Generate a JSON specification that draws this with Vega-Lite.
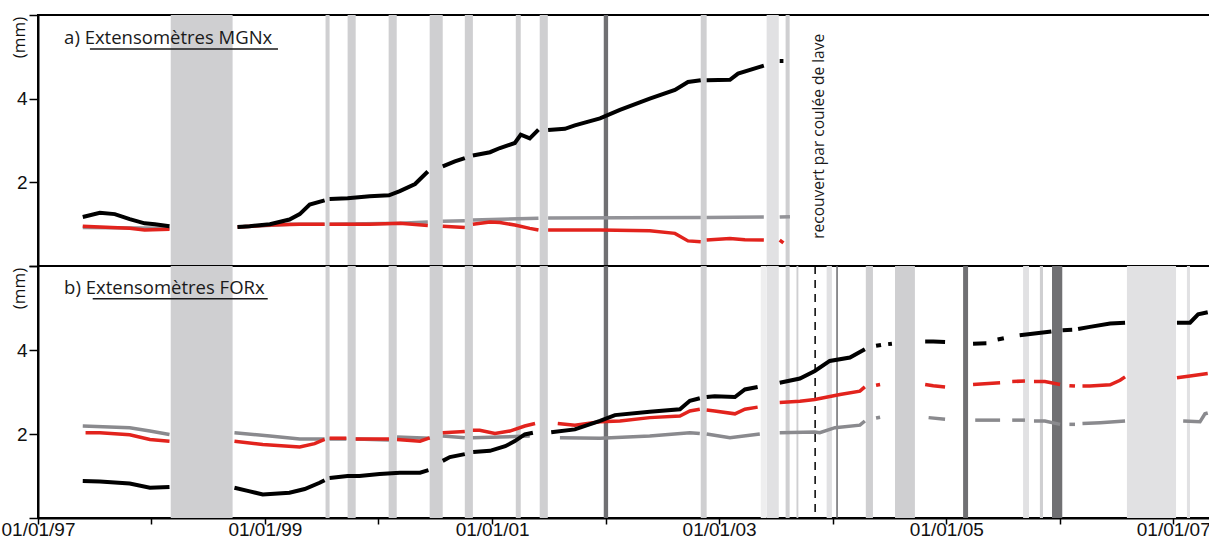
{
  "$schema": "https://vega.github.io/schema/vega-lite/v6.json",
  "padding": {"left": 0, "top": 13, "right": 0, "bottom": 0},
  "background": "white",
  "spacing": 0,
  "bounds": "flush",
  "config": {
    "view": {"stroke": "#000", "strokeWidth": 2, "fill": "white"},
    "axis": {"grid": false, "tickColor": "#000", "tickWidth": 1.5, "domainColor": "#000", "domainWidth": 2, "labelColor": "#111", "labelFont": "Liberation Sans", "zindex": 1}
  },
  "datasets": {
    "bandes": [
      {"panneaux": "ab", "teinte": "gris", "debut": "1998-03-04", "fin": "1998-09-19"},
      {"panneaux": "ab", "teinte": "gris", "debut": "1999-07-15", "fin": "1999-07-28"},
      {"panneaux": "ab", "teinte": "gris", "debut": "1999-09-24", "fin": "1999-10-20"},
      {"panneaux": "ab", "teinte": "gris", "debut": "2000-02-03", "fin": "2000-02-29"},
      {"panneaux": "ab", "teinte": "gris", "debut": "2000-06-14", "fin": "2000-07-26"},
      {"panneaux": "ab", "teinte": "gris", "debut": "2000-10-05", "fin": "2000-10-31"},
      {"panneaux": "ab", "teinte": "gris", "debut": "2001-03-18", "fin": "2001-04-03"},
      {"panneaux": "ab", "teinte": "gris", "debut": "2001-06-03", "fin": "2001-06-29"},
      {"panneaux": "ab", "teinte": "sombre", "debut": "2001-12-26", "fin": "2002-01-09"},
      {"panneaux": "ab", "teinte": "gris", "debut": "2002-11-03", "fin": "2002-11-22"},
      {"panneaux": "ab", "teinte": "clair", "debut": "2003-06-03", "fin": "2003-07-12"},
      {"panneaux": "ab", "teinte": "gris", "debut": "2003-08-03", "fin": "2003-08-16"},
      {"panneaux": "b", "teinte": "tres clair", "debut": "2003-05-15", "fin": "2003-06-03"},
      {"panneaux": "b", "teinte": "gris", "debut": "2003-09-07", "fin": "2003-09-13"},
      {"panneaux": "b", "teinte": "clair", "debut": "2003-12-13", "fin": "2003-12-30"},
      {"panneaux": "b", "teinte": "sombre", "debut": "2004-01-13", "fin": "2004-01-18"},
      {"panneaux": "b", "teinte": "gris", "debut": "2004-04-17", "fin": "2004-05-10"},
      {"panneaux": "b", "teinte": "gris", "debut": "2004-07-20", "fin": "2004-09-22"},
      {"panneaux": "b", "teinte": "sombre", "debut": "2005-02-24", "fin": "2005-03-12"},
      {"panneaux": "b", "teinte": "clair", "debut": "2005-09-05", "fin": "2005-09-24"},
      {"panneaux": "b", "teinte": "gris", "debut": "2005-10-29", "fin": "2005-11-08"},
      {"panneaux": "b", "teinte": "sombre", "debut": "2005-12-07", "fin": "2006-01-09"},
      {"panneaux": "b", "teinte": "clair", "debut": "2006-08-05", "fin": "2007-01-10"},
      {"panneaux": "b", "teinte": "clair", "debut": "2007-02-14", "fin": "2007-02-24"}
    ],
    "mesures": [
      {"panneau": "a", "serie": "noir", "segment": 1, "date": "1997-05-25", "mm": 1.17},
      {"panneau": "a", "serie": "noir", "segment": 1, "date": "1997-07-19", "mm": 1.27},
      {"panneau": "a", "serie": "noir", "segment": 1, "date": "1997-09-05", "mm": 1.24},
      {"panneau": "a", "serie": "noir", "segment": 1, "date": "1997-10-23", "mm": 1.12},
      {"panneau": "a", "serie": "noir", "segment": 1, "date": "1997-12-10", "mm": 1.02},
      {"panneau": "a", "serie": "noir", "segment": 1, "date": "1998-01-12", "mm": 1.0},
      {"panneau": "a", "serie": "noir", "segment": 1, "date": "1998-02-28", "mm": 0.95},
      {"panneau": "a", "serie": "noir", "segment": 2, "date": "1998-10-05", "mm": 0.93},
      {"panneau": "a", "serie": "noir", "segment": 2, "date": "1998-11-13", "mm": 0.95},
      {"panneau": "a", "serie": "noir", "segment": 2, "date": "1999-01-17", "mm": 1.0},
      {"panneau": "a", "serie": "noir", "segment": 2, "date": "1999-03-21", "mm": 1.11},
      {"panneau": "a", "serie": "noir", "segment": 2, "date": "1999-04-23", "mm": 1.24},
      {"panneau": "a", "serie": "noir", "segment": 2, "date": "1999-05-25", "mm": 1.47},
      {"panneau": "a", "serie": "noir", "segment": 2, "date": "1999-07-12", "mm": 1.57},
      {"panneau": "a", "serie": "noir", "segment": 3, "date": "1999-07-28", "mm": 1.6},
      {"panneau": "a", "serie": "noir", "segment": 3, "date": "1999-09-24", "mm": 1.62},
      {"panneau": "a", "serie": "noir", "segment": 3, "date": "1999-12-04", "mm": 1.67},
      {"panneau": "a", "serie": "noir", "segment": 3, "date": "2000-02-04", "mm": 1.69},
      {"panneau": "a", "serie": "noir", "segment": 3, "date": "2000-03-10", "mm": 1.79},
      {"panneau": "a", "serie": "noir", "segment": 3, "date": "2000-04-28", "mm": 1.96},
      {"panneau": "a", "serie": "noir", "segment": 3, "date": "2000-06-08", "mm": 2.26},
      {"panneau": "a", "serie": "noir", "segment": 4, "date": "2000-07-26", "mm": 2.38},
      {"panneau": "a", "serie": "noir", "segment": 4, "date": "2000-09-03", "mm": 2.5},
      {"panneau": "a", "serie": "noir", "segment": 4, "date": "2000-10-05", "mm": 2.58},
      {"panneau": "a", "serie": "noir", "segment": 5, "date": "2000-10-31", "mm": 2.64},
      {"panneau": "a", "serie": "noir", "segment": 5, "date": "2000-12-25", "mm": 2.72},
      {"panneau": "a", "serie": "noir", "segment": 5, "date": "2001-01-26", "mm": 2.82},
      {"panneau": "a", "serie": "noir", "segment": 5, "date": "2001-03-15", "mm": 2.94},
      {"panneau": "a", "serie": "noir", "segment": 5, "date": "2001-04-03", "mm": 3.14},
      {"panneau": "a", "serie": "noir", "segment": 5, "date": "2001-05-02", "mm": 3.05},
      {"panneau": "a", "serie": "noir", "segment": 5, "date": "2001-05-30", "mm": 3.26},
      {"panneau": "a", "serie": "noir", "segment": 6, "date": "2001-06-30", "mm": 3.25},
      {"panneau": "a", "serie": "noir", "segment": 6, "date": "2001-08-23", "mm": 3.28},
      {"panneau": "a", "serie": "noir", "segment": 6, "date": "2001-09-24", "mm": 3.36},
      {"panneau": "a", "serie": "noir", "segment": 6, "date": "2001-12-14", "mm": 3.53},
      {"panneau": "a", "serie": "noir", "segment": 6, "date": "2002-02-16", "mm": 3.73},
      {"panneau": "a", "serie": "noir", "segment": 6, "date": "2002-05-23", "mm": 4.0},
      {"panneau": "a", "serie": "noir", "segment": 6, "date": "2002-08-12", "mm": 4.21},
      {"panneau": "a", "serie": "noir", "segment": 6, "date": "2002-09-23", "mm": 4.4},
      {"panneau": "a", "serie": "noir", "segment": 6, "date": "2002-11-03", "mm": 4.44},
      {"panneau": "a", "serie": "noir", "segment": 7, "date": "2002-11-22", "mm": 4.44},
      {"panneau": "a", "serie": "noir", "segment": 7, "date": "2003-02-05", "mm": 4.45},
      {"panneau": "a", "serie": "noir", "segment": 7, "date": "2003-03-03", "mm": 4.6},
      {"panneau": "a", "serie": "noir", "segment": 7, "date": "2003-05-12", "mm": 4.76},
      {"panneau": "a", "serie": "noir", "segment": 7, "date": "2003-05-25", "mm": 4.79},
      {"panneau": "a", "serie": "noir", "segment": 8, "date": "2003-07-15", "mm": 4.9},
      {"panneau": "a", "serie": "noir", "segment": 8, "date": "2003-07-27", "mm": 4.9},

      {"panneau": "a", "serie": "rouge", "segment": 1, "date": "1997-05-25", "mm": 0.95},
      {"panneau": "a", "serie": "rouge", "segment": 1, "date": "1997-07-19", "mm": 0.93},
      {"panneau": "a", "serie": "rouge", "segment": 1, "date": "1997-10-23", "mm": 0.9},
      {"panneau": "a", "serie": "rouge", "segment": 1, "date": "1997-12-10", "mm": 0.86},
      {"panneau": "a", "serie": "rouge", "segment": 1, "date": "1998-02-28", "mm": 0.88},
      {"panneau": "a", "serie": "rouge", "segment": 2, "date": "1998-10-05", "mm": 0.93},
      {"panneau": "a", "serie": "rouge", "segment": 2, "date": "1999-01-17", "mm": 0.98},
      {"panneau": "a", "serie": "rouge", "segment": 2, "date": "1999-04-23", "mm": 1.0},
      {"panneau": "a", "serie": "rouge", "segment": 2, "date": "1999-07-12", "mm": 1.0},
      {"panneau": "a", "serie": "rouge", "segment": 3, "date": "1999-07-28", "mm": 1.0},
      {"panneau": "a", "serie": "rouge", "segment": 3, "date": "1999-12-04", "mm": 1.0},
      {"panneau": "a", "serie": "rouge", "segment": 3, "date": "2000-03-10", "mm": 1.02},
      {"panneau": "a", "serie": "rouge", "segment": 3, "date": "2000-06-08", "mm": 0.97},
      {"panneau": "a", "serie": "rouge", "segment": 4, "date": "2000-07-26", "mm": 0.95},
      {"panneau": "a", "serie": "rouge", "segment": 4, "date": "2000-10-05", "mm": 0.92},
      {"panneau": "a", "serie": "rouge", "segment": 5, "date": "2000-10-31", "mm": 1.0},
      {"panneau": "a", "serie": "rouge", "segment": 5, "date": "2000-12-25", "mm": 1.05},
      {"panneau": "a", "serie": "rouge", "segment": 5, "date": "2001-01-26", "mm": 1.04},
      {"panneau": "a", "serie": "rouge", "segment": 5, "date": "2001-03-15", "mm": 0.98},
      {"panneau": "a", "serie": "rouge", "segment": 5, "date": "2001-05-02", "mm": 0.9},
      {"panneau": "a", "serie": "rouge", "segment": 5, "date": "2001-05-30", "mm": 0.86},
      {"panneau": "a", "serie": "rouge", "segment": 6, "date": "2001-06-30", "mm": 0.86},
      {"panneau": "a", "serie": "rouge", "segment": 6, "date": "2001-12-14", "mm": 0.86},
      {"panneau": "a", "serie": "rouge", "segment": 6, "date": "2002-05-23", "mm": 0.84},
      {"panneau": "a", "serie": "rouge", "segment": 6, "date": "2002-08-12", "mm": 0.78},
      {"panneau": "a", "serie": "rouge", "segment": 6, "date": "2002-09-23", "mm": 0.6},
      {"panneau": "a", "serie": "rouge", "segment": 6, "date": "2002-11-03", "mm": 0.58},
      {"panneau": "a", "serie": "rouge", "segment": 7, "date": "2002-11-22", "mm": 0.62},
      {"panneau": "a", "serie": "rouge", "segment": 7, "date": "2003-02-05", "mm": 0.66},
      {"panneau": "a", "serie": "rouge", "segment": 7, "date": "2003-03-25", "mm": 0.63},
      {"panneau": "a", "serie": "rouge", "segment": 7, "date": "2003-05-25", "mm": 0.62},
      {"panneau": "a", "serie": "rouge", "segment": 8, "date": "2003-07-15", "mm": 0.62},
      {"panneau": "a", "serie": "rouge", "segment": 8, "date": "2003-07-27", "mm": 0.55},

      {"panneau": "a", "serie": "gris", "segment": 1, "date": "1997-05-25", "mm": 0.92},
      {"panneau": "a", "serie": "gris", "segment": 1, "date": "1998-02-28", "mm": 0.9},
      {"panneau": "a", "serie": "gris", "segment": 2, "date": "1998-10-05", "mm": 0.93},
      {"panneau": "a", "serie": "gris", "segment": 2, "date": "1999-03-21", "mm": 1.0},
      {"panneau": "a", "serie": "gris", "segment": 2, "date": "1999-07-12", "mm": 1.0},
      {"panneau": "a", "serie": "gris", "segment": 3, "date": "1999-07-28", "mm": 1.0},
      {"panneau": "a", "serie": "gris", "segment": 3, "date": "2000-03-10", "mm": 1.02},
      {"panneau": "a", "serie": "gris", "segment": 3, "date": "2000-06-08", "mm": 1.05},
      {"panneau": "a", "serie": "gris", "segment": 4, "date": "2000-07-26", "mm": 1.07},
      {"panneau": "a", "serie": "gris", "segment": 4, "date": "2000-10-05", "mm": 1.08},
      {"panneau": "a", "serie": "gris", "segment": 5, "date": "2000-10-31", "mm": 1.1},
      {"panneau": "a", "serie": "gris", "segment": 5, "date": "2001-05-30", "mm": 1.14},
      {"panneau": "a", "serie": "gris", "segment": 6, "date": "2001-06-30", "mm": 1.15},
      {"panneau": "a", "serie": "gris", "segment": 6, "date": "2002-11-03", "mm": 1.16},
      {"panneau": "a", "serie": "gris", "segment": 7, "date": "2002-11-22", "mm": 1.16},
      {"panneau": "a", "serie": "gris", "segment": 7, "date": "2003-05-25", "mm": 1.17},
      {"panneau": "a", "serie": "gris", "segment": 8, "date": "2003-07-15", "mm": 1.17},
      {"panneau": "a", "serie": "gris", "segment": 8, "date": "2003-08-17", "mm": 1.18},

      {"panneau": "b", "serie": "noir", "segment": 1, "date": "1997-05-25", "mm": 0.88},
      {"panneau": "b", "serie": "noir", "segment": 1, "date": "1997-07-19", "mm": 0.87},
      {"panneau": "b", "serie": "noir", "segment": 1, "date": "1997-10-23", "mm": 0.82},
      {"panneau": "b", "serie": "noir", "segment": 1, "date": "1997-12-27", "mm": 0.72},
      {"panneau": "b", "serie": "noir", "segment": 1, "date": "1998-02-28", "mm": 0.74},
      {"panneau": "b", "serie": "noir", "segment": 2, "date": "1998-09-25", "mm": 0.72},
      {"panneau": "b", "serie": "noir", "segment": 2, "date": "1998-11-10", "mm": 0.64},
      {"panneau": "b", "serie": "noir", "segment": 2, "date": "1998-12-25", "mm": 0.56},
      {"panneau": "b", "serie": "noir", "segment": 2, "date": "1999-03-21", "mm": 0.6},
      {"panneau": "b", "serie": "noir", "segment": 2, "date": "1999-05-09", "mm": 0.69},
      {"panneau": "b", "serie": "noir", "segment": 2, "date": "1999-06-26", "mm": 0.84},
      {"panneau": "b", "serie": "noir", "segment": 2, "date": "1999-07-12", "mm": 0.9},
      {"panneau": "b", "serie": "noir", "segment": 3, "date": "1999-07-28", "mm": 0.95},
      {"panneau": "b", "serie": "noir", "segment": 3, "date": "1999-09-24", "mm": 1.0},
      {"panneau": "b", "serie": "noir", "segment": 3, "date": "1999-11-01", "mm": 1.0},
      {"panneau": "b", "serie": "noir", "segment": 3, "date": "2000-01-05", "mm": 1.05},
      {"panneau": "b", "serie": "noir", "segment": 3, "date": "2000-03-10", "mm": 1.08},
      {"panneau": "b", "serie": "noir", "segment": 3, "date": "2000-05-14", "mm": 1.08},
      {"panneau": "b", "serie": "noir", "segment": 3, "date": "2000-06-10", "mm": 1.14},
      {"panneau": "b", "serie": "noir", "segment": 4, "date": "2000-07-26", "mm": 1.36},
      {"panneau": "b", "serie": "noir", "segment": 4, "date": "2000-08-18", "mm": 1.45},
      {"panneau": "b", "serie": "noir", "segment": 4, "date": "2000-10-05", "mm": 1.52},
      {"panneau": "b", "serie": "noir", "segment": 5, "date": "2000-11-01", "mm": 1.57},
      {"panneau": "b", "serie": "noir", "segment": 5, "date": "2000-12-25", "mm": 1.6},
      {"panneau": "b", "serie": "noir", "segment": 5, "date": "2001-02-12", "mm": 1.71},
      {"panneau": "b", "serie": "noir", "segment": 5, "date": "2001-03-15", "mm": 1.83},
      {"panneau": "b", "serie": "noir", "segment": 5, "date": "2001-04-16", "mm": 1.99},
      {"panneau": "b", "serie": "noir", "segment": 5, "date": "2001-05-12", "mm": 2.03},
      {"panneau": "b", "serie": "noir", "segment": 6, "date": "2001-07-10", "mm": 2.04},
      {"panneau": "b", "serie": "noir", "segment": 6, "date": "2001-09-24", "mm": 2.11},
      {"panneau": "b", "serie": "noir", "segment": 6, "date": "2001-12-14", "mm": 2.31},
      {"panneau": "b", "serie": "noir", "segment": 6, "date": "2002-01-31", "mm": 2.45},
      {"panneau": "b", "serie": "noir", "segment": 6, "date": "2002-05-23", "mm": 2.53},
      {"panneau": "b", "serie": "noir", "segment": 6, "date": "2002-08-28", "mm": 2.59},
      {"panneau": "b", "serie": "noir", "segment": 6, "date": "2002-09-29", "mm": 2.79},
      {"panneau": "b", "serie": "noir", "segment": 6, "date": "2002-10-31", "mm": 2.85},
      {"panneau": "b", "serie": "noir", "segment": 7, "date": "2002-11-22", "mm": 2.88},
      {"panneau": "b", "serie": "noir", "segment": 7, "date": "2002-12-18", "mm": 2.9},
      {"panneau": "b", "serie": "noir", "segment": 7, "date": "2003-02-21", "mm": 2.88},
      {"panneau": "b", "serie": "noir", "segment": 7, "date": "2003-03-25", "mm": 3.06},
      {"panneau": "b", "serie": "noir", "segment": 7, "date": "2003-05-05", "mm": 3.12},
      {"panneau": "b", "serie": "noir", "segment": 8, "date": "2003-07-15", "mm": 3.22},
      {"panneau": "b", "serie": "noir", "segment": 8, "date": "2003-09-18", "mm": 3.32},
      {"panneau": "b", "serie": "noir", "segment": 8, "date": "2003-11-05", "mm": 3.5},
      {"panneau": "b", "serie": "noir", "segment": 8, "date": "2003-12-23", "mm": 3.74},
      {"panneau": "b", "serie": "noir", "segment": 8, "date": "2004-02-26", "mm": 3.82},
      {"panneau": "b", "serie": "noir", "segment": 8, "date": "2004-04-14", "mm": 4.02},
      {"panneau": "b", "serie": "noir", "segment": 9, "date": "2004-05-20", "mm": 4.1},
      {"panneau": "b", "serie": "noir", "segment": 9, "date": "2004-06-05", "mm": 4.12},
      {"panneau": "b", "serie": "noir", "segment": 10, "date": "2004-06-28", "mm": 4.14},
      {"panneau": "b", "serie": "noir", "segment": 10, "date": "2004-07-10", "mm": 4.15},
      {"panneau": "b", "serie": "noir", "segment": 11, "date": "2004-10-25", "mm": 4.2},
      {"panneau": "b", "serie": "noir", "segment": 11, "date": "2004-11-20", "mm": 4.2},
      {"panneau": "b", "serie": "noir", "segment": 11, "date": "2004-12-28", "mm": 4.19},
      {"panneau": "b", "serie": "noir", "segment": 12, "date": "2005-03-28", "mm": 4.15},
      {"panneau": "b", "serie": "noir", "segment": 12, "date": "2005-05-10", "mm": 4.16},
      {"panneau": "b", "serie": "noir", "segment": 13, "date": "2005-06-15", "mm": 4.25},
      {"panneau": "b", "serie": "noir", "segment": 13, "date": "2005-07-05", "mm": 4.28},
      {"panneau": "b", "serie": "noir", "segment": 14, "date": "2005-08-25", "mm": 4.35},
      {"panneau": "b", "serie": "noir", "segment": 14, "date": "2005-12-05", "mm": 4.44},
      {"panneau": "b", "serie": "noir", "segment": 15, "date": "2006-01-10", "mm": 4.47},
      {"panneau": "b", "serie": "noir", "segment": 15, "date": "2006-02-10", "mm": 4.48},
      {"panneau": "b", "serie": "noir", "segment": 16, "date": "2006-03-01", "mm": 4.5},
      {"panneau": "b", "serie": "noir", "segment": 16, "date": "2006-04-08", "mm": 4.55},
      {"panneau": "b", "serie": "noir", "segment": 16, "date": "2006-06-12", "mm": 4.63},
      {"panneau": "b", "serie": "noir", "segment": 16, "date": "2006-07-30", "mm": 4.65},
      {"panneau": "b", "serie": "noir", "segment": 17, "date": "2007-01-13", "mm": 4.65},
      {"panneau": "b", "serie": "noir", "segment": 17, "date": "2007-02-24", "mm": 4.65},
      {"panneau": "b", "serie": "noir", "segment": 17, "date": "2007-03-22", "mm": 4.85},
      {"panneau": "b", "serie": "noir", "segment": 17, "date": "2007-04-22", "mm": 4.9},

      {"panneau": "b", "serie": "rouge", "segment": 1, "date": "1997-06-03", "mm": 2.03},
      {"panneau": "b", "serie": "rouge", "segment": 1, "date": "1997-07-19", "mm": 2.03},
      {"panneau": "b", "serie": "rouge", "segment": 1, "date": "1997-10-23", "mm": 1.98},
      {"panneau": "b", "serie": "rouge", "segment": 1, "date": "1997-12-27", "mm": 1.87},
      {"panneau": "b", "serie": "rouge", "segment": 1, "date": "1998-02-28", "mm": 1.83},
      {"panneau": "b", "serie": "rouge", "segment": 2, "date": "1998-09-25", "mm": 1.83},
      {"panneau": "b", "serie": "rouge", "segment": 2, "date": "1998-12-25", "mm": 1.75},
      {"panneau": "b", "serie": "rouge", "segment": 2, "date": "1999-04-23", "mm": 1.69},
      {"panneau": "b", "serie": "rouge", "segment": 2, "date": "1999-06-10", "mm": 1.77},
      {"panneau": "b", "serie": "rouge", "segment": 2, "date": "1999-07-12", "mm": 1.87},
      {"panneau": "b", "serie": "rouge", "segment": 3, "date": "1999-07-28", "mm": 1.9},
      {"panneau": "b", "serie": "rouge", "segment": 3, "date": "1999-09-20", "mm": 1.9},
      {"panneau": "b", "serie": "rouge", "segment": 4, "date": "1999-10-20", "mm": 1.88},
      {"panneau": "b", "serie": "rouge", "segment": 4, "date": "2000-02-04", "mm": 1.88},
      {"panneau": "b", "serie": "rouge", "segment": 5, "date": "2000-03-01", "mm": 1.87},
      {"panneau": "b", "serie": "rouge", "segment": 5, "date": "2000-05-14", "mm": 1.83},
      {"panneau": "b", "serie": "rouge", "segment": 5, "date": "2000-06-14", "mm": 1.91},
      {"panneau": "b", "serie": "rouge", "segment": 6, "date": "2000-07-26", "mm": 2.03},
      {"panneau": "b", "serie": "rouge", "segment": 6, "date": "2000-10-05", "mm": 2.06},
      {"panneau": "b", "serie": "rouge", "segment": 7, "date": "2000-10-31", "mm": 2.09},
      {"panneau": "b", "serie": "rouge", "segment": 7, "date": "2000-11-22", "mm": 2.09},
      {"panneau": "b", "serie": "rouge", "segment": 7, "date": "2001-01-10", "mm": 2.01},
      {"panneau": "b", "serie": "rouge", "segment": 7, "date": "2001-02-27", "mm": 2.07},
      {"panneau": "b", "serie": "rouge", "segment": 7, "date": "2001-04-16", "mm": 2.19},
      {"panneau": "b", "serie": "rouge", "segment": 7, "date": "2001-05-19", "mm": 2.25},
      {"panneau": "b", "serie": "rouge", "segment": 8, "date": "2001-07-31", "mm": 2.25},
      {"panneau": "b", "serie": "rouge", "segment": 8, "date": "2001-09-24", "mm": 2.21},
      {"panneau": "b", "serie": "rouge", "segment": 8, "date": "2001-12-14", "mm": 2.29},
      {"panneau": "b", "serie": "rouge", "segment": 8, "date": "2002-02-16", "mm": 2.31},
      {"panneau": "b", "serie": "rouge", "segment": 8, "date": "2002-05-23", "mm": 2.39},
      {"panneau": "b", "serie": "rouge", "segment": 8, "date": "2002-08-28", "mm": 2.43},
      {"panneau": "b", "serie": "rouge", "segment": 8, "date": "2002-09-29", "mm": 2.55},
      {"panneau": "b", "serie": "rouge", "segment": 8, "date": "2002-10-31", "mm": 2.59},
      {"panneau": "b", "serie": "rouge", "segment": 9, "date": "2002-11-22", "mm": 2.57},
      {"panneau": "b", "serie": "rouge", "segment": 9, "date": "2002-12-18", "mm": 2.55},
      {"panneau": "b", "serie": "rouge", "segment": 9, "date": "2003-02-21", "mm": 2.48},
      {"panneau": "b", "serie": "rouge", "segment": 9, "date": "2003-03-25", "mm": 2.59},
      {"panneau": "b", "serie": "rouge", "segment": 9, "date": "2003-05-05", "mm": 2.64},
      {"panneau": "b", "serie": "rouge", "segment": 10, "date": "2003-07-15", "mm": 2.75},
      {"panneau": "b", "serie": "rouge", "segment": 10, "date": "2003-09-18", "mm": 2.78},
      {"panneau": "b", "serie": "rouge", "segment": 10, "date": "2003-11-05", "mm": 2.82},
      {"panneau": "b", "serie": "rouge", "segment": 10, "date": "2004-01-25", "mm": 2.94},
      {"panneau": "b", "serie": "rouge", "segment": 10, "date": "2004-03-29", "mm": 3.02},
      {"panneau": "b", "serie": "rouge", "segment": 10, "date": "2004-04-14", "mm": 3.12},
      {"panneau": "b", "serie": "rouge", "segment": 11, "date": "2004-05-20", "mm": 3.16},
      {"panneau": "b", "serie": "rouge", "segment": 11, "date": "2004-06-02", "mm": 3.18},
      {"panneau": "b", "serie": "rouge", "segment": 12, "date": "2004-10-25", "mm": 3.18},
      {"panneau": "b", "serie": "rouge", "segment": 12, "date": "2004-11-20", "mm": 3.15},
      {"panneau": "b", "serie": "rouge", "segment": 12, "date": "2004-12-28", "mm": 3.12},
      {"panneau": "b", "serie": "rouge", "segment": 13, "date": "2005-03-28", "mm": 3.18},
      {"panneau": "b", "serie": "rouge", "segment": 13, "date": "2005-06-23", "mm": 3.22},
      {"panneau": "b", "serie": "rouge", "segment": 14, "date": "2005-08-01", "mm": 3.25},
      {"panneau": "b", "serie": "rouge", "segment": 14, "date": "2005-09-11", "mm": 3.26},
      {"panneau": "b", "serie": "rouge", "segment": 15, "date": "2005-10-10", "mm": 3.25},
      {"panneau": "b", "serie": "rouge", "segment": 15, "date": "2005-11-14", "mm": 3.25},
      {"panneau": "b", "serie": "rouge", "segment": 15, "date": "2006-01-02", "mm": 3.18},
      {"panneau": "b", "serie": "rouge", "segment": 16, "date": "2006-02-01", "mm": 3.15},
      {"panneau": "b", "serie": "rouge", "segment": 16, "date": "2006-02-19", "mm": 3.14},
      {"panneau": "b", "serie": "rouge", "segment": 17, "date": "2006-03-15", "mm": 3.14},
      {"panneau": "b", "serie": "rouge", "segment": 17, "date": "2006-04-08", "mm": 3.14},
      {"panneau": "b", "serie": "rouge", "segment": 17, "date": "2006-06-12", "mm": 3.17},
      {"panneau": "b", "serie": "rouge", "segment": 17, "date": "2006-07-14", "mm": 3.28},
      {"panneau": "b", "serie": "rouge", "segment": 17, "date": "2006-07-30", "mm": 3.36},
      {"panneau": "b", "serie": "rouge", "segment": 18, "date": "2007-01-13", "mm": 3.34},
      {"panneau": "b", "serie": "rouge", "segment": 18, "date": "2007-02-24", "mm": 3.38},
      {"panneau": "b", "serie": "rouge", "segment": 18, "date": "2007-04-22", "mm": 3.44},

      {"panneau": "b", "serie": "gris", "segment": 1, "date": "1997-05-25", "mm": 2.19},
      {"panneau": "b", "serie": "gris", "segment": 1, "date": "1997-10-23", "mm": 2.15},
      {"panneau": "b", "serie": "gris", "segment": 1, "date": "1997-12-27", "mm": 2.07},
      {"panneau": "b", "serie": "gris", "segment": 1, "date": "1998-02-28", "mm": 1.99},
      {"panneau": "b", "serie": "gris", "segment": 2, "date": "1998-09-25", "mm": 2.03},
      {"panneau": "b", "serie": "gris", "segment": 2, "date": "1999-01-17", "mm": 1.95},
      {"panneau": "b", "serie": "gris", "segment": 2, "date": "1999-04-23", "mm": 1.88},
      {"panneau": "b", "serie": "gris", "segment": 2, "date": "1999-07-12", "mm": 1.88},
      {"panneau": "b", "serie": "gris", "segment": 3, "date": "1999-07-28", "mm": 1.88},
      {"panneau": "b", "serie": "gris", "segment": 3, "date": "1999-09-20", "mm": 1.88},
      {"panneau": "b", "serie": "gris", "segment": 4, "date": "1999-10-20", "mm": 1.88},
      {"panneau": "b", "serie": "gris", "segment": 4, "date": "2000-02-04", "mm": 1.86},
      {"panneau": "b", "serie": "gris", "segment": 5, "date": "2000-03-01", "mm": 1.93},
      {"panneau": "b", "serie": "gris", "segment": 5, "date": "2000-06-14", "mm": 1.9},
      {"panneau": "b", "serie": "gris", "segment": 6, "date": "2000-07-26", "mm": 1.95},
      {"panneau": "b", "serie": "gris", "segment": 6, "date": "2000-10-05", "mm": 1.91},
      {"panneau": "b", "serie": "gris", "segment": 7, "date": "2000-10-31", "mm": 1.91},
      {"panneau": "b", "serie": "gris", "segment": 7, "date": "2001-01-26", "mm": 1.93},
      {"panneau": "b", "serie": "gris", "segment": 7, "date": "2001-05-02", "mm": 1.95},
      {"panneau": "b", "serie": "gris", "segment": 8, "date": "2001-08-07", "mm": 1.91},
      {"panneau": "b", "serie": "gris", "segment": 8, "date": "2001-12-14", "mm": 1.9},
      {"panneau": "b", "serie": "gris", "segment": 8, "date": "2002-05-23", "mm": 1.95},
      {"panneau": "b", "serie": "gris", "segment": 8, "date": "2002-09-29", "mm": 2.03},
      {"panneau": "b", "serie": "gris", "segment": 8, "date": "2002-10-31", "mm": 2.01},
      {"panneau": "b", "serie": "gris", "segment": 9, "date": "2002-11-22", "mm": 2.0},
      {"panneau": "b", "serie": "gris", "segment": 9, "date": "2003-02-05", "mm": 1.91},
      {"panneau": "b", "serie": "gris", "segment": 9, "date": "2003-05-12", "mm": 2.0},
      {"panneau": "b", "serie": "gris", "segment": 10, "date": "2003-07-15", "mm": 2.03},
      {"panneau": "b", "serie": "gris", "segment": 10, "date": "2003-11-05", "mm": 2.05},
      {"panneau": "b", "serie": "gris", "segment": 10, "date": "2003-11-21", "mm": 2.03},
      {"panneau": "b", "serie": "gris", "segment": 10, "date": "2004-01-09", "mm": 2.15},
      {"panneau": "b", "serie": "gris", "segment": 10, "date": "2004-03-29", "mm": 2.21},
      {"panneau": "b", "serie": "gris", "segment": 10, "date": "2004-04-14", "mm": 2.31},
      {"panneau": "b", "serie": "gris", "segment": 11, "date": "2004-05-20", "mm": 2.38},
      {"panneau": "b", "serie": "gris", "segment": 11, "date": "2004-06-02", "mm": 2.4},
      {"panneau": "b", "serie": "gris", "segment": 12, "date": "2004-11-05", "mm": 2.39},
      {"panneau": "b", "serie": "gris", "segment": 12, "date": "2004-12-28", "mm": 2.35},
      {"panneau": "b", "serie": "gris", "segment": 13, "date": "2005-04-04", "mm": 2.33},
      {"panneau": "b", "serie": "gris", "segment": 13, "date": "2005-06-23", "mm": 2.33},
      {"panneau": "b", "serie": "gris", "segment": 14, "date": "2005-08-01", "mm": 2.33},
      {"panneau": "b", "serie": "gris", "segment": 14, "date": "2005-09-11", "mm": 2.33},
      {"panneau": "b", "serie": "gris", "segment": 15, "date": "2005-10-10", "mm": 2.31},
      {"panneau": "b", "serie": "gris", "segment": 15, "date": "2005-11-14", "mm": 2.31},
      {"panneau": "b", "serie": "gris", "segment": 15, "date": "2006-01-02", "mm": 2.23},
      {"panneau": "b", "serie": "gris", "segment": 16, "date": "2006-02-01", "mm": 2.23},
      {"panneau": "b", "serie": "gris", "segment": 16, "date": "2006-02-19", "mm": 2.23},
      {"panneau": "b", "serie": "gris", "segment": 17, "date": "2006-03-15", "mm": 2.25},
      {"panneau": "b", "serie": "gris", "segment": 17, "date": "2006-05-11", "mm": 2.27},
      {"panneau": "b", "serie": "gris", "segment": 17, "date": "2006-07-30", "mm": 2.31},
      {"panneau": "b", "serie": "gris", "segment": 18, "date": "2007-02-02", "mm": 2.31},
      {"panneau": "b", "serie": "gris", "segment": 18, "date": "2007-03-28", "mm": 2.29},
      {"panneau": "b", "serie": "gris", "segment": 18, "date": "2007-04-13", "mm": 2.48},
      {"panneau": "b", "serie": "gris", "segment": 18, "date": "2007-04-22", "mm": 2.5}
    ],
    "titres": [
      {"panneau": "a", "texte": "a) Extensomètres MGNx", "date": "1997-03-26", "mm": 5.31, "debut": "1997-06-17", "fin": "1999-02-12", "souligne": 5.19},
      {"panneau": "b", "texte": "b) Extensomètres FORx", "date": "1997-03-26", "mm": 5.33, "debut": "1997-06-26", "fin": "1999-01-10", "souligne": 5.22}
    ],
    "notes": [
      {"panneau": "a", "texte": "recouvert par coulée de lave", "date": "2003-11-18", "mm": 3.1},
      {"panneau": "b", "texte": "", "date": "2003-11-06", "mm": 0}
    ]
  },
  "vconcat": [
    {
      "width": 1180,
      "height": 251,
      "layer": [
        {
          "data": {"name": "bandes"},
          "transform": [{"filter": "datum.panneaux == 'ab'"}],
          "mark": {"type": "rect"},
          "encoding": {
            "x": {"field": "debut", "type": "temporal",
              "scale": {"type": "utc", "domain": [{"year": 1997, "month": 1, "date": 1, "utc": true}, {"year": 2007, "month": 5, "date": 25, "utc": true}]},
              "axis": {"title": null, "labels": false, "tickSize": 5, "domain": true,
                "values": [{"year": 1997, "month": 1, "date": 1, "utc": true}, {"year": 1998, "month": 1, "date": 1, "utc": true}, {"year": 1999, "month": 1, "date": 1, "utc": true}, {"year": 2000, "month": 1, "date": 1, "utc": true}, {"year": 2001, "month": 1, "date": 1, "utc": true}, {"year": 2002, "month": 1, "date": 1, "utc": true}, {"year": 2003, "month": 1, "date": 1, "utc": true}, {"year": 2004, "month": 1, "date": 1, "utc": true}, {"year": 2005, "month": 1, "date": 1, "utc": true}, {"year": 2006, "month": 1, "date": 1, "utc": true}, {"year": 2007, "month": 1, "date": 1, "utc": true}]}},
            "x2": {"field": "fin"},
            "color": {"field": "teinte", "type": "nominal", "legend": null,
              "scale": {"domain": ["gris", "sombre", "clair", "tres clair"], "range": ["#cfcfd1", "#707073", "#e1e1e3", "#eeeeef"]}}
          }
        },
        {
          "data": {"name": "mesures"},
          "transform": [{"filter": "datum.panneau == 'a' && datum.serie == 'gris'"}],
          "mark": {"type": "line", "color": "#939398", "strokeWidth": 3.5},
          "encoding": {
            "x": {"field": "date", "type": "temporal"},
            "y": {"field": "mm", "type": "quantitative", "scale": {"domain": [0, 6], "nice": false},
              "axis": {"values": [0, 2, 4, 6], "labelExpr": "datum.value == 2 || datum.value == 4 ? datum.label : ''", "tickSize": 9, "labelPadding": 2, "labelFontSize": 19, "domain": true,
                "title": "(mm)", "titleX": -19, "titleY": 22, "titleAngle": 270, "titleAlign": "center", "titleBaseline": "middle", "titleFont": "Open Sans", "titleFontSize": 17, "titleFontWeight": "normal", "titleColor": "#111"}},
            "detail": {"field": "segment", "type": "nominal"}
          }
        },
        {
          "data": {"name": "mesures"},
          "transform": [{"filter": "datum.panneau == 'a' && datum.serie == 'rouge'"}],
          "mark": {"type": "line", "color": "#e2231d", "strokeWidth": 3.5},
          "encoding": {
            "x": {"field": "date", "type": "temporal"},
            "y": {"field": "mm", "type": "quantitative"},
            "detail": {"field": "segment", "type": "nominal"}
          }
        },
        {
          "data": {"name": "mesures"},
          "transform": [{"filter": "datum.panneau == 'a' && datum.serie == 'noir'"}],
          "mark": {"type": "line", "color": "#000000", "strokeWidth": 4},
          "encoding": {
            "x": {"field": "date", "type": "temporal"},
            "y": {"field": "mm", "type": "quantitative"},
            "detail": {"field": "segment", "type": "nominal"}
          }
        },
        {
          "data": {"name": "titres"},
          "transform": [{"filter": "datum.panneau == 'a'"}],
          "mark": {"type": "text", "align": "left", "baseline": "alphabetic", "font": "Open Sans", "fontSize": 18.5, "color": "#1a1a1a"},
          "encoding": {
            "x": {"field": "date", "type": "temporal"},
            "y": {"field": "mm", "type": "quantitative"},
            "text": {"field": "texte"}
          }
        },
        {
          "data": {"name": "titres"},
          "transform": [{"filter": "datum.panneau == 'a'"}],
          "mark": {"type": "rule", "color": "#1a1a1a", "strokeWidth": 1.5},
          "encoding": {
            "x": {"field": "debut", "type": "temporal"},
            "x2": {"field": "fin"},
            "y": {"field": "souligne", "type": "quantitative"}
          }
        },
        {
          "data": {"name": "notes"},
          "transform": [{"filter": "datum.panneau == 'a'"}],
          "mark": {"type": "text", "angle": 270, "align": "center", "baseline": "middle", "font": "Open Sans", "fontSize": 15.5, "color": "#1a1a1a"},
          "encoding": {
            "x": {"field": "date", "type": "temporal"},
            "y": {"field": "mm", "type": "quantitative"},
            "text": {"field": "texte"}
          }
        }
      ]
    },
    {
      "width": 1180,
      "height": 252,
      "layer": [
        {
          "data": {"name": "bandes"},
          "mark": {"type": "rect"},
          "encoding": {
            "x": {"field": "debut", "type": "temporal",
              "scale": {"type": "utc", "domain": [{"year": 1997, "month": 1, "date": 1, "utc": true}, {"year": 2007, "month": 5, "date": 25, "utc": true}]},
              "axis": {"title": null, "tickSize": 6, "labelPadding": -3.5, "labelFontSize": 19, "labelBaseline": "top", "domain": true, "labelOverlap": false, "labelFlush": false,
                "labelExpr": "utcyear(datum.value) % 2 == 1 ? utcFormat(datum.value, '%d/%m/%y') : ''",
                "values": [{"year": 1997, "month": 1, "date": 1, "utc": true}, {"year": 1998, "month": 1, "date": 1, "utc": true}, {"year": 1999, "month": 1, "date": 1, "utc": true}, {"year": 2000, "month": 1, "date": 1, "utc": true}, {"year": 2001, "month": 1, "date": 1, "utc": true}, {"year": 2002, "month": 1, "date": 1, "utc": true}, {"year": 2003, "month": 1, "date": 1, "utc": true}, {"year": 2004, "month": 1, "date": 1, "utc": true}, {"year": 2005, "month": 1, "date": 1, "utc": true}, {"year": 2006, "month": 1, "date": 1, "utc": true}, {"year": 2007, "month": 1, "date": 1, "utc": true}]}},
            "x2": {"field": "fin"},
            "color": {"field": "teinte", "type": "nominal", "legend": null,
              "scale": {"domain": ["gris", "sombre", "clair", "tres clair"], "range": ["#cfcfd1", "#707073", "#e1e1e3", "#eeeeef"]}}
          }
        },
        {
          "data": {"name": "notes"},
          "transform": [{"filter": "datum.panneau == 'b'"}],
          "mark": {"type": "rule", "color": "#000", "strokeWidth": 1.5, "strokeDash": [8, 6]},
          "encoding": {
            "x": {"field": "date", "type": "temporal"}
          }
        },
        {
          "data": {"name": "mesures"},
          "transform": [{"filter": "datum.panneau == 'b' && datum.serie == 'gris'"}],
          "mark": {"type": "line", "color": "#8a8a8e", "strokeWidth": 3.5},
          "encoding": {
            "x": {"field": "date", "type": "temporal"},
            "y": {"field": "mm", "type": "quantitative", "scale": {"domain": [0, 6], "nice": false},
              "axis": {"values": [0, 2, 4, 6], "labelExpr": "datum.value == 2 || datum.value == 4 ? datum.label : ''", "tickSize": 9, "labelPadding": 2, "labelFontSize": 19, "domain": true,
                "title": "(mm)", "titleX": -19, "titleY": 22, "titleAngle": 270, "titleAlign": "center", "titleBaseline": "middle", "titleFont": "Open Sans", "titleFontSize": 17, "titleFontWeight": "normal", "titleColor": "#111"}},
            "detail": {"field": "segment", "type": "nominal"}
          }
        },
        {
          "data": {"name": "mesures"},
          "transform": [{"filter": "datum.panneau == 'b' && datum.serie == 'rouge'"}],
          "mark": {"type": "line", "color": "#e2231d", "strokeWidth": 3.5},
          "encoding": {
            "x": {"field": "date", "type": "temporal"},
            "y": {"field": "mm", "type": "quantitative"},
            "detail": {"field": "segment", "type": "nominal"}
          }
        },
        {
          "data": {"name": "mesures"},
          "transform": [{"filter": "datum.panneau == 'b' && datum.serie == 'noir'"}],
          "mark": {"type": "line", "color": "#000000", "strokeWidth": 4},
          "encoding": {
            "x": {"field": "date", "type": "temporal"},
            "y": {"field": "mm", "type": "quantitative"},
            "detail": {"field": "segment", "type": "nominal"}
          }
        },
        {
          "data": {"name": "titres"},
          "transform": [{"filter": "datum.panneau == 'b'"}],
          "mark": {"type": "text", "align": "left", "baseline": "alphabetic", "font": "Open Sans", "fontSize": 18.5, "color": "#1a1a1a"},
          "encoding": {
            "x": {"field": "date", "type": "temporal"},
            "y": {"field": "mm", "type": "quantitative"},
            "text": {"field": "texte"}
          }
        },
        {
          "data": {"name": "titres"},
          "transform": [{"filter": "datum.panneau == 'b'"}],
          "mark": {"type": "rule", "color": "#1a1a1a", "strokeWidth": 1.5},
          "encoding": {
            "x": {"field": "debut", "type": "temporal"},
            "x2": {"field": "fin"},
            "y": {"field": "souligne", "type": "quantitative"}
          }
        }
      ]
    }
  ]
}
